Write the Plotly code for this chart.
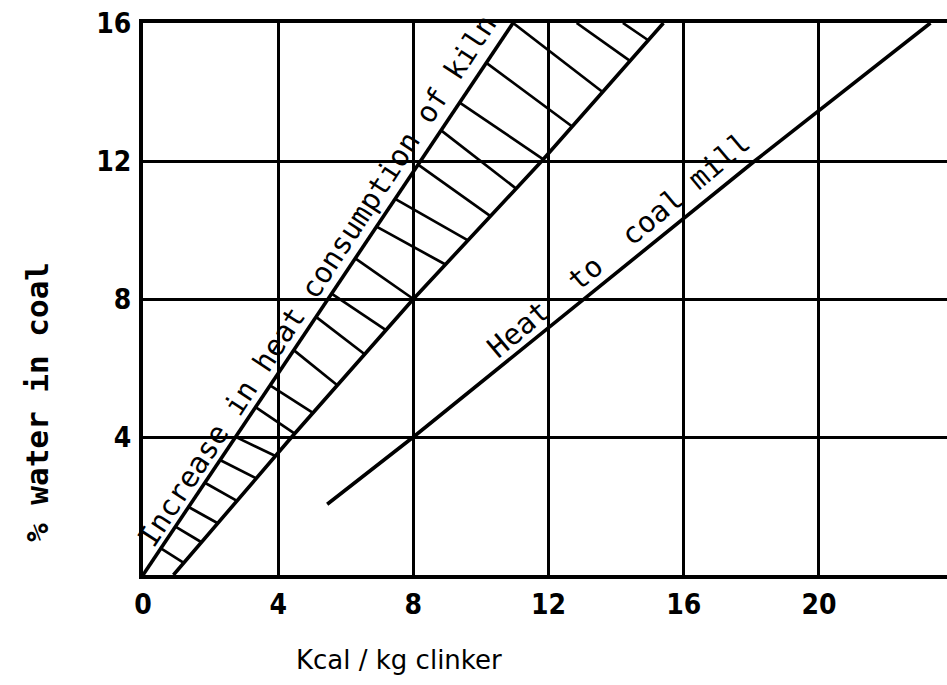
import numpy as np
import plotly.graph_objects as go

# ---- data ----
x_tick_vals = [0, 4, 8, 12, 16, 20]
y_tick_vals = [4, 8, 12, 16]

# upper edge of hatched band: increase in heat consumption of kiln
kiln_upper_x = [0, 10.95]
kiln_upper_y = [0, 16]
# lower edge of hatched band
kiln_lower_x = [0.9, 4.4, 8.0, 11.8, 15.4]
kiln_lower_y = [0, 4, 8, 12, 16]
# heat to coal mill
mill_x = [5.45, 8.0, 18.1, 23.3]
mill_y = [2.05, 4, 12, 16]

# hatch strokes: start x on the upper edge (kiln line / top border), end y on lower edge
hatch_start_x = [0.53, 0.96, 1.35, 1.83, 2.28, 2.74, 3.33, 3.76, 4.46, 5.12, 5.58,
                 6.28, 6.91, 7.46, 8.14, 8.82, 9.37, 10.16, 10.95, 12.83, 14.2]
hatch_end_y = [0.35, 0.95, 1.5, 2.15, 2.8, 3.45, 4.1, 4.7, 5.5, 6.4, 7.1,
               8.0, 9.0, 9.7, 10.4, 11.2, 12.05, 13.0, 14.0, 14.9, 15.5]

X_MAX = 23.79
Y_MAX = 16

MONO = "DejaVu Sans Mono"
SANS = "DejaVu Sans"
TICK = "DejaVu Sans Condensed"
INK = "#000000"

# build hatch segments via interpolation along the two edges
top_x = kiln_upper_x + [X_MAX]
top_y = kiln_upper_y + [Y_MAX]
hx, hy = [], []
for sx, ey in zip(hatch_start_x, hatch_end_y):
    sy = float(np.interp(sx, top_x, top_y))
    ex = float(np.interp(ey, kiln_lower_y, kiln_lower_x))
    hx += [sx, ex, None]
    hy += [sy, ey, None]

fig = go.Figure()
fig.add_trace(go.Scatter(x=hx, y=hy, mode="lines",
                         line=dict(color=INK, width=2.7), hoverinfo="skip"))
fig.add_trace(go.Scatter(x=kiln_upper_x, y=kiln_upper_y, mode="lines",
                         line=dict(color=INK, width=3.6), hoverinfo="skip"))
fig.add_trace(go.Scatter(x=kiln_lower_x, y=kiln_lower_y, mode="lines",
                         line=dict(color=INK, width=3.6), hoverinfo="skip"))
fig.add_trace(go.Scatter(x=mill_x, y=mill_y, mode="lines",
                         line=dict(color=INK, width=3.6), hoverinfo="skip"))

fig.add_annotation(x=5.15, y=8.52, xref="x", yref="y",
                   text="Increase in heat consumption of kiln", showarrow=False,
                   textangle=-56.8, font=dict(family=MONO, size=29, color=INK))
fig.add_annotation(x=14.08, y=9.56, xref="x", yref="y",
                   text="Heat  to  coal mill", showarrow=False,
                   textangle=-40, font=dict(family=MONO, size=29, color=INK))

PW, PH = 804, 552
fig.add_annotation(x=(37 - 143) / PW, y=(575 - 402) / PH, xref="paper", yref="paper",
                   text="% water in coal", showarrow=False, textangle=-90,
                   xanchor="center", yanchor="middle",
                   font=dict(family=MONO, size=31, color=INK, weight="bold"))
fig.add_annotation(x=(399 - 143) / PW, y=(575 - 660) / PH, xref="paper", yref="paper",
                   text="Kcal / kg clinker", showarrow=False,
                   xanchor="center", yanchor="middle",
                   font=dict(family=SANS, size=26, color=INK))

fig.update_layout(
    width=947, height=685,
    margin=dict(l=143, r=0, t=23, b=110),
    paper_bgcolor="white", plot_bgcolor="white",
    showlegend=False,
    font=dict(family=SANS, color=INK),
)
fig.update_xaxes(range=[0, X_MAX], tickvals=x_tick_vals,
                 ticktext=[str(v) for v in x_tick_vals],
                 showgrid=True, gridcolor=INK, gridwidth=2.6,
                 showline=True, linecolor=INK, linewidth=4, mirror=True,
                 zeroline=False, ticks="", ticklabelstandoff=1,
                 tickfont=dict(family=TICK, size=28, color=INK, weight="bold"))
fig.update_yaxes(range=[0, Y_MAX], tickvals=y_tick_vals,
                 ticktext=[str(v) for v in y_tick_vals],
                 showgrid=True, gridcolor=INK, gridwidth=2.6,
                 showline=True, linecolor=INK, linewidth=4, mirror=False,
                 zeroline=False, ticks="", ticklabelstandoff=2,
                 tickfont=dict(family=TICK, size=28, color=INK, weight="bold"))

fig.write_html("out.html")
